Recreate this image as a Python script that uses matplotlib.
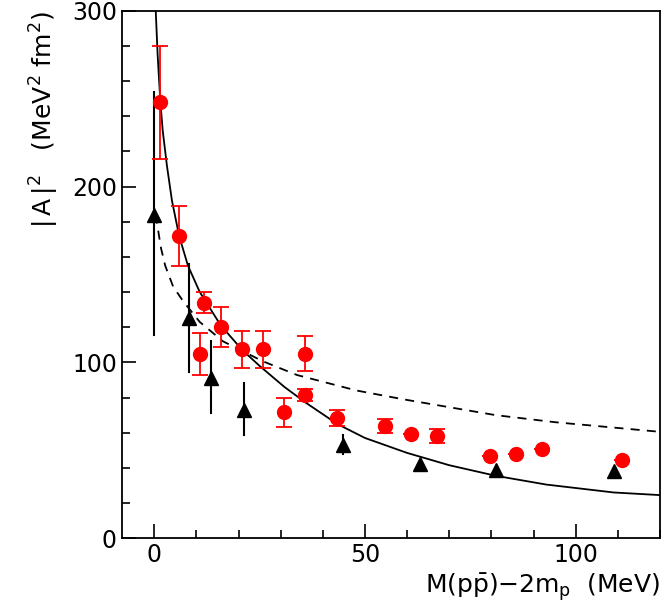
import matplotlib
matplotlib.use("Agg")
import matplotlib.pyplot as plt
from matplotlib.ticker import MultipleLocator

# red points: x, y, symmetric error
red_x = [1.4, 5.9, 10.8, 11.9, 15.8, 20.9, 25.9, 30.9, 35.8, 35.8, 43.4, 54.8, 60.9, 67.1, 79.6, 85.8, 92.1, 110.9]
red_y = [248, 172, 105, 134, 120, 107.5, 107.5, 71.5, 105, 81.5, 68.5, 64, 59.5, 58, 47, 48, 50.5, 44.5]
red_err = [32, 17, 12, 6, 11.5, 10.5, 10.5, 8.5, 10, 3.5, 4.5, 4, 0, 4, 0, 0, 0, 0]

# black triangles with vertical bars: x, y, bar low, bar high
tri_x = [0.0, 8.2, 13.5, 21.4, 44.9, 63.0, 81.0, 109.0]
tri_y = [184, 125, 91, 73, 53, 42, 38.5, 38]
tri_lo = [115.5, 94.5, 71.3, 58.6, 48, 42, 38.5, 38]
tri_hi = [253.6, 156, 112, 88, 58.6, 42, 38.5, 38]

# solid curve
solid_x = [0.35, 0.8, 1.4, 2.0, 3.0, 4.2, 5.9, 8.0, 10.8, 15.8, 20.9, 25.0, 30.9, 36.0, 43.4, 50.0, 60.0, 70.0, 81.0, 93.0, 109.0, 120.0]
solid_y = [300, 275, 250, 232, 212, 192, 172, 155, 140, 121, 107, 98, 86, 77, 65, 57, 48.5, 41.5, 35.5, 30.5, 26, 24.5]

# dashed curve
dash_x = [0.2, 0.8, 1.6, 2.6, 4.5, 6.9, 10.8, 16.3, 25.8, 33.9, 48.0, 59.1, 70.0, 81.0, 95.0, 120.0]
dash_y = [184, 177, 165, 155, 143, 134.7, 123, 112, 100.6, 92.8, 84, 79, 74.5, 70, 66, 60.5]

plt.rcParams["font.family"] = ["DejaVu Sans"]
plt.rcParams["mathtext.fontset"] = "dejavusans"

fig = plt.figure(figsize=(6.62, 6.04), dpi=100)
ax = fig.add_axes([0.184, 0.109, 0.813, 0.873])

ax.plot(solid_x, solid_y, color="black", linewidth=1.3)
ax.plot(dash_x, dash_y, color="black", linewidth=1.3, linestyle=(0, (5, 4)))

for x, lo, hi in zip(tri_x, tri_lo, tri_hi):
    if hi > lo:
        ax.plot([x, x], [lo, hi], color="black", linewidth=1.5)
ax.plot(tri_x, tri_y, linestyle="none", marker="^", color="black", markersize=10)

ax.errorbar(red_x, red_y, yerr=red_err, fmt="o", color="red", ecolor="red",
            markersize=10, capsize=6, elinewidth=1.3, capthick=1.3)

ax.set_xlim(-7.7, 120)
ax.set_ylim(0, 300)
ax.xaxis.set_major_locator(MultipleLocator(50))
ax.xaxis.set_minor_locator(MultipleLocator(10))
ax.yaxis.set_major_locator(MultipleLocator(100))
ax.yaxis.set_minor_locator(MultipleLocator(20))
ax.tick_params(which="both", direction="in", top=False, right=False, labelsize=17, width=1.2)
ax.tick_params(which="major", length=10)
ax.tick_params(which="minor", length=6)
for s in ax.spines.values():
    s.set_linewidth(1.3)

ax.set_xlabel(r"M$(\mathrm{p\bar{p}})$$-$2m$_\mathrm{p}$  (MeV)", fontsize=18, loc="right", labelpad=3)
ax.set_ylabel(r"$\mathrm{|\,A\,|^2}$   (MeV$^2$ fm$^2$)", fontsize=18, loc="top", labelpad=8)

fig.savefig("out.png", dpi=100)
